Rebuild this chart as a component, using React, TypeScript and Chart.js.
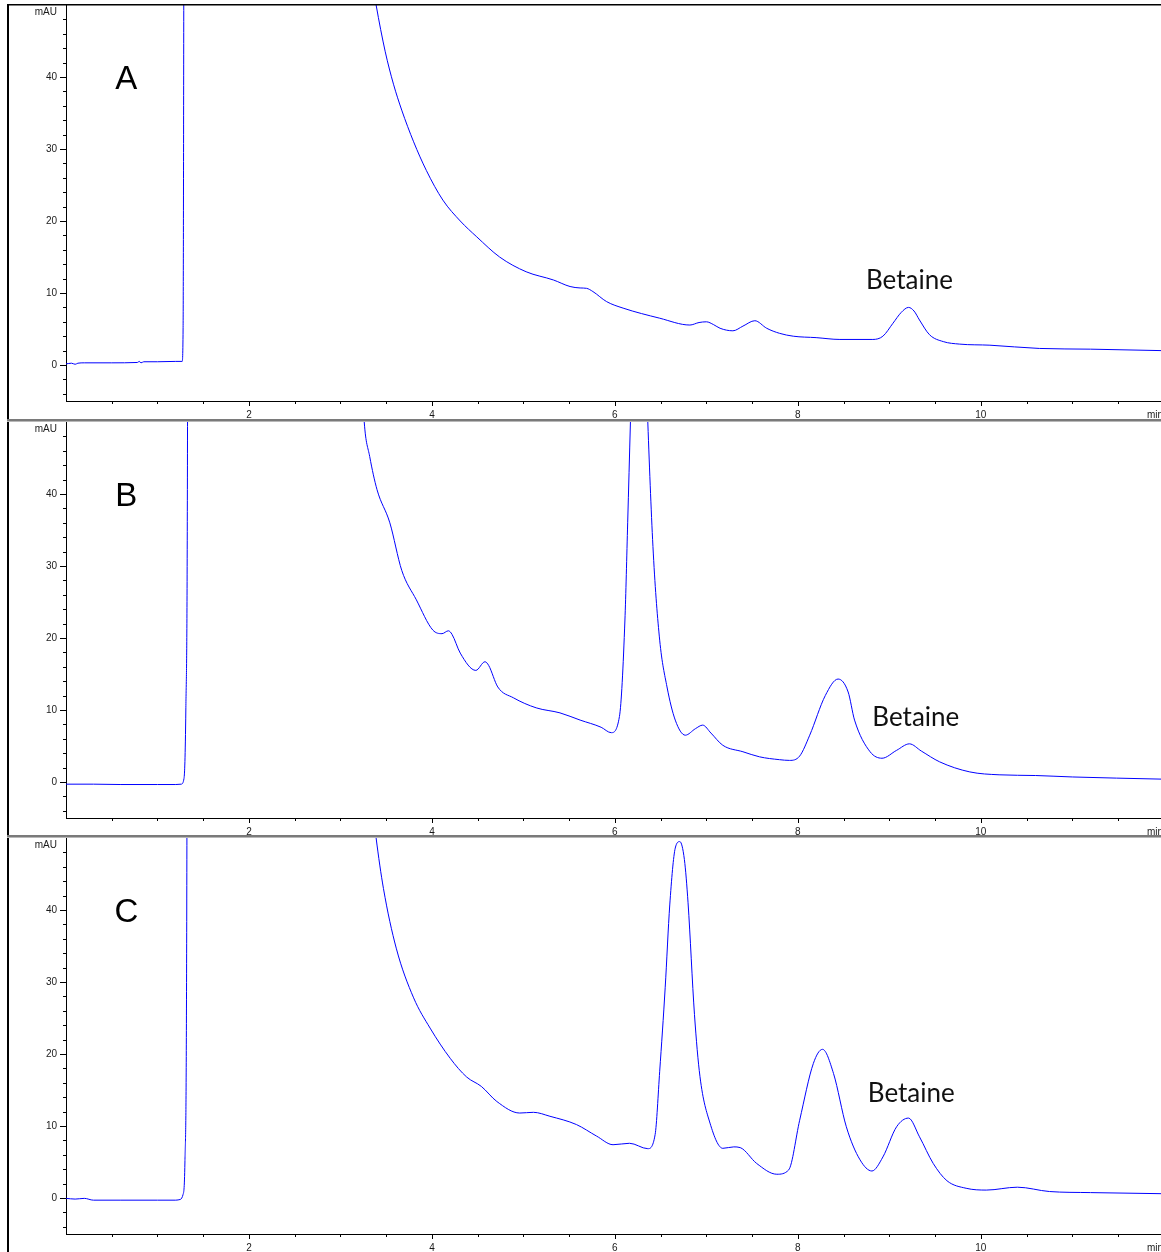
import React, { useEffect, useRef } from 'react';
import { Chart, registerables } from 'chart.js';

Chart.register(...registerables);

// ---------- data (retention time in min, signal in mAU) ----------
const timeA = [0, 0.06, 0.1, 0.13, 0.2, 0.5, 0.78, 0.8, 0.82, 0.85, 1.0, 1.2, 1.27, 1.28, 1.29, 1.31, 2.0, 3.0, 3.3, 3.39, 3.49, 3.58, 3.67, 3.8, 3.94, 4.12, 4.31, 4.49, 4.74, 5.03, 5.33, 5.51, 5.62, 5.69, 5.76, 5.91, 6.09, 6.49, 6.82, 6.92, 7.0, 7.08, 7.15, 7.29, 7.4, 7.53, 7.66, 7.8, 7.95, 8.2, 8.46, 8.82, 8.93, 9.04, 9.13, 9.21, 9.27, 9.33, 9.44, 9.59, 9.77, 10.1, 10.64, 11.2, 11.97];
const signalA = [0.15, 0.25, 0.1, 0.25, 0.3, 0.3, 0.35, 0.5, 0.3, 0.45, 0.45, 0.5, 0.5, 5, 80, 400, 700, 90, 57, 50, 43.5, 39.0, 35.4, 31.0, 27.0, 22.9, 20.0, 17.8, 15.0, 12.95, 11.8, 10.9, 10.7, 10.65, 10.2, 8.8, 7.9, 6.5, 5.55, 5.9, 6.0, 5.6, 5.1, 4.75, 5.4, 6.15, 5.1, 4.4, 4.0, 3.8, 3.55, 3.55, 4.0, 5.8, 7.3, 8.0, 7.5, 6.25, 4.2, 3.25, 2.9, 2.75, 2.3, 2.2, 2.0];

const timeB = [0, 0.3, 0.6, 1.0, 1.2, 1.26, 1.29, 1.31, 1.33, 1.36, 2.0, 3.0, 3.2, 3.26, 3.32, 3.4, 3.54, 3.67, 3.83, 4.01, 4.11, 4.18, 4.22, 4.31, 4.48, 4.58, 4.62, 4.72, 4.89, 5.14, 5.4, 5.62, 5.85, 5.96, 6.05, 6.11, 6.14, 6.17, 6.21, 6.25, 6.29, 6.33, 6.36, 6.42, 6.49, 6.57, 6.66, 6.77, 6.88, 6.96, 7.05, 7.18, 7.4, 7.58, 7.8, 7.91, 8.02, 8.13, 8.3, 8.44, 8.55, 8.62, 8.79, 8.92, 9.08, 9.22, 9.35, 9.55, 9.88, 10.2, 10.6, 11.0, 11.97];
const signalB = [-0.3, -0.3, -0.35, -0.35, -0.35, -0.3, 0.5, 10, 60, 600, 900, 120, 65, 50, 45.2, 40.6, 36, 29.4, 25.3, 21.1, 20.6, 21.0, 20.5, 17.9, 15.5, 16.7, 16.2, 13.2, 11.7, 10.3, 9.6, 8.6, 7.6, 6.85, 9.1, 22.5, 36, 50, 68, 78, 75, 62, 50, 31.8, 19.7, 13.2, 8.6, 6.5, 7.4, 7.9, 6.8, 5.1, 4.2, 3.5, 3.1, 3.0, 3.6, 6.5, 12, 14.3, 12.5, 8.6, 4.2, 3.3, 4.4, 5.3, 4.3, 2.8, 1.4, 1.0, 0.9, 0.7, 0.4];

const timeC = [0, 0.1, 0.2, 0.3, 0.6, 1.0, 1.2, 1.25, 1.28, 1.3, 1.32, 1.36, 2.0, 3.0, 3.3, 3.39, 3.47, 3.61, 3.8, 3.98, 4.2, 4.38, 4.54, 4.71, 4.96, 5.11, 5.29, 5.58, 5.8, 5.98, 6.16, 6.36, 6.44, 6.49, 6.55, 6.6, 6.66, 6.71, 6.76, 6.8, 6.87, 6.93, 7.04, 7.18, 7.3, 7.37, 7.55, 7.77, 7.9, 8.02, 8.17, 8.27, 8.39, 8.53, 8.68, 8.81, 8.93, 9.08, 9.21, 9.33, 9.48, 9.63, 9.84, 10.06, 10.4, 10.75, 11.2, 11.97];
const signalC = [-0.05, -0.15, -0.05, -0.3, -0.3, -0.3, -0.3, -0.2, 0.5, 5, 40, 400, 900, 110, 60, 50, 43.0, 34.7, 27.8, 23.6, 19.4, 16.8, 15.5, 13.4, 11.8, 11.9, 11.35, 10.2, 8.6, 7.4, 7.6, 6.85, 8.8, 17.6, 29.2, 40.7, 48.6, 49.5, 47, 41, 25.5, 16.9, 10.4, 6.9, 7.1, 7.0, 4.8, 3.3, 3.9, 10.8, 18.7, 20.65, 17.3, 9.9, 5.3, 3.75, 5.7, 9.9, 11.1, 8.5, 4.8, 2.4, 1.35, 1.1, 1.5, 0.9, 0.75, 0.6];

const xTickLabels = [2, 4, 6, 8, 10];
const yTickLabels = [0, 10, 20, 30, 40];
const panelLetters = ['A', 'B', 'C'];
const peakName = 'Betaine';
const yUnit = 'mAU';
const xUnit = 'min';

// ---------- layout / style ----------
const WIDTH = 1161;
const X_MIN = 0;
const X_MAX = 11.97;
const Y_MIN = -5;
const Y_MAX = 50;
const X_MINOR = 0.5;
const Y_MINOR = 2;
const PLOT_TOP = 5;
const PLOT_BOTTOM = 401;
const AXIS_LEFT = 66;
const LINE_COLOR = 'rgb(0,0,255)';
const TEXT_COLOR = '#1a1a1a';
const AXIS_FONT = { family: '"Liberation Sans", Arial, sans-serif', size: 10 };

type PanelCfg = {
  time: number[];
  signal: number[];
  letter: string;
  top: number;
  height: number;
  first: boolean;
  peakLabel: { t: number; v: number };
};

const panels: PanelCfg[] = [
  { time: timeA, signal: signalA, letter: panelLetters[0], top: 0, height: 421, first: true, peakLabel: { t: 9.22, v: 10.5 } },
  { time: timeB, signal: signalB, letter: panelLetters[1], top: 417, height: 421, first: false, peakLabel: { t: 9.29, v: 7.8 } },
  { time: timeC, signal: signalC, letter: panelLetters[2], top: 833, height: 419, first: false, peakLabel: { t: 9.24, v: 13.4 } },
];

const chromPlugin = {
  id: 'chrom',
  afterDraw(chart: any, _args: any, opts: any) {
    const ctx: CanvasRenderingContext2D = chart.ctx;
    const { left, top, bottom } = chart.chartArea;
    const xs = chart.scales.x;
    const ys = chart.scales.y;
    const W = chart.width;
    const H = chart.height;
    ctx.save();

    // window frame / separators
    if (opts.first) {
      ctx.fillStyle = '#000';
      ctx.fillRect(7, top - 1, W - 7, 1.5);
      ctx.fillRect(7, top - 1, 2, H - top + 1);
    } else {
      ctx.fillStyle = '#000';
      ctx.fillRect(7, 0, 2, H);
      ctx.fillStyle = '#7a7a7a';
      ctx.fillRect(7, 2, W - 7, 2);
      ctx.fillStyle = '#b8b8b8';
      ctx.fillRect(7, 4, W - 7, 1);
    }

    // tick marks
    ctx.strokeStyle = '#000';
    ctx.lineWidth = 1;
    ctx.beginPath();
    for (let v = -4; v < Y_MAX - 1; v += Y_MINOR) {
      const y = Math.round(ys.getPixelForValue(v)) + 0.5;
      const len = v % 10 === 0 ? 6 : 3;
      ctx.moveTo(left - len, y);
      ctx.lineTo(left, y);
    }
    for (let t = X_MINOR; t < X_MAX; t += X_MINOR) {
      const x = Math.round(xs.getPixelForValue(t)) + 0.5;
      const len = Math.abs(t % 2) < 1e-6 ? 5 : 3;
      ctx.moveTo(x, bottom);
      ctx.lineTo(x, bottom + len);
    }
    ctx.stroke();

    // axis unit labels
    ctx.fillStyle = TEXT_COLOR;
    ctx.font = '10px "Liberation Sans", Arial, sans-serif';
    ctx.textAlign = 'right';
    ctx.textBaseline = 'middle';
    ctx.fillText(yUnit, left - 9, top + 7);
    ctx.textAlign = 'left';
    ctx.fillText(xUnit, 1147, bottom + 14);

    // panel letter
    ctx.fillStyle = '#000';
    ctx.font = '33px "Liberation Sans", Arial, sans-serif';
    ctx.textAlign = 'center';
    ctx.textBaseline = 'alphabetic';
    ctx.fillText(opts.letter, xs.getPixelForValue(0.66), ys.getPixelForValue(38.3));

    // peak annotation
    ctx.fillStyle = '#111';
    ctx.font = '26px Lato, "Open Sans", sans-serif';
    ctx.fillText(peakName, xs.getPixelForValue(opts.peakLabel.t), ys.getPixelForValue(opts.peakLabel.v));

    ctx.restore();
  },
};

function Panel({ cfg }: { cfg: PanelCfg }) {
  const ref = useRef<HTMLCanvasElement>(null);
  useEffect(() => {
    const canvas = ref.current;
    if (!canvas) return;
    const chart = new Chart(canvas, {
      type: 'line',
      data: {
        datasets: [
          {
            data: cfg.time.map((t, i) => ({ x: t, y: cfg.signal[i] })),
            borderColor: LINE_COLOR,
            borderWidth: 1,
            pointRadius: 0,
            cubicInterpolationMode: 'monotone',
            fill: false,
          },
        ],
      },
      options: {
        animation: false,
        responsive: false,
        events: [],
        layout: { padding: { top: PLOT_TOP, left: 0, right: 0, bottom: 0 } },
        plugins: {
          legend: { display: false },
          tooltip: { enabled: false },
          chrom: { first: cfg.first, letter: cfg.letter, peakLabel: cfg.peakLabel },
        } as any,
        scales: {
          x: {
            type: 'linear',
            min: X_MIN,
            max: X_MAX,
            grid: { display: false, drawTicks: false },
            border: { display: true, color: '#000', width: 1 },
            ticks: {
              stepSize: 2,
              autoSkip: false,
              maxRotation: 0,
              padding: 8,
              font: AXIS_FONT,
              color: TEXT_COLOR,
              callback: (v: any) => (xTickLabels.includes(Number(v)) ? String(v) : null),
            },
            afterFit: (s: any) => {
              s.height = s.chart.height - PLOT_BOTTOM;
              s.paddingLeft = 0;
              s.paddingRight = 0;
            },
          },
          y: {
            type: 'linear',
            min: Y_MIN,
            max: Y_MAX,
            grid: { display: false, drawTicks: false },
            border: { display: true, color: '#000', width: 1 },
            ticks: {
              stepSize: 10,
              autoSkip: false,
              padding: 9,
              font: AXIS_FONT,
              color: TEXT_COLOR,
              callback: (v: any) => (yTickLabels.includes(Number(v)) ? String(v) : null),
            },
            afterFit: (s: any) => {
              s.width = AXIS_LEFT;
              s.paddingTop = 0;
              s.paddingBottom = 0;
            },
          },
        },
      } as any,
      plugins: [chromPlugin],
    });
    return () => chart.destroy();
  }, [cfg]);
  return (
    <div style={{ position: 'absolute', left: 0, top: cfg.top, width: WIDTH, height: cfg.height }}>
      <canvas ref={ref} width={WIDTH} height={cfg.height} style={{ display: 'block' }} />
    </div>
  );
}

export default function App() {
  return (
    <div
      style={{
        position: 'absolute',
        left: 0,
        top: 0,
        width: WIDTH,
        height: 1252,
        overflow: 'hidden',
        background: '#fff',
      }}
    >
      {panels.map((p) => (
        <Panel key={p.letter} cfg={p} />
      ))}
    </div>
  );
}
